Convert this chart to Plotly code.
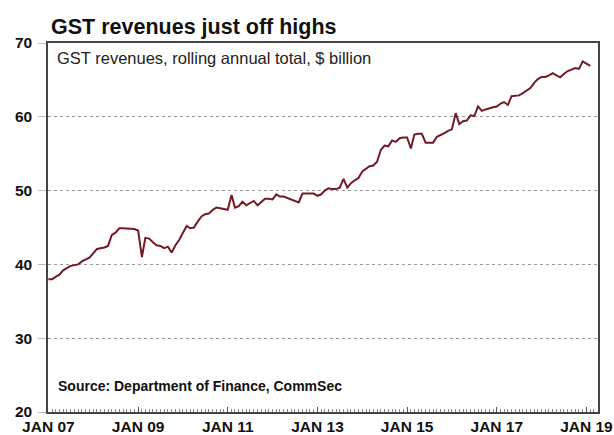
"""GST revenues, rolling annual total (recreated chart)."""

import pandas as pd
import plotly.graph_objects as go

# Monthly rolling annual total, $ billion, Jan 2007 onward
start_month = "2007-01-01"
gst_revenue = [
    38.0, 38.0, 38.3, 38.6, 39.2, 39.5, 39.8, 39.9, 40.0, 40.4, 40.7, 40.9,
    41.5, 42.1, 42.2, 42.3, 42.5, 44.0, 44.3, 44.9, 44.9, 44.9, 44.8, 44.8,
    44.6, 41.0, 43.6, 43.5, 43.0, 42.6, 42.5, 42.2, 42.4, 41.6, 42.6, 43.3,
    44.3, 45.2, 44.9, 45.0, 45.8, 46.5, 46.8, 46.9, 47.4, 47.7, 47.6, 47.5,
    47.4, 49.4, 47.7, 47.9, 48.5, 48.0, 48.3, 48.6, 48.0, 48.5, 48.9, 48.9,
    48.8, 49.5, 49.2, 49.2, 49.0, 48.8, 48.6, 48.4, 49.6, 49.6, 49.6, 49.6,
    49.3, 49.5, 50.0, 50.3, 50.2, 50.2, 50.4, 51.6, 50.4, 51.0, 51.4, 51.7,
    52.6, 53.0, 53.3, 53.4, 53.9, 55.5, 56.1, 56.0, 56.8, 56.6, 57.1, 57.2,
    57.2, 55.7, 57.6, 57.7, 57.7, 56.5, 56.5, 56.5, 57.3, 57.5, 57.8, 58.1,
    58.3, 60.5, 59.0, 59.4, 59.5, 60.2, 60.1, 61.4, 60.8, 61.0, 61.2, 61.3,
    61.4, 61.8, 62.0, 61.6, 62.8, 62.9, 62.9, 63.2, 63.5, 63.9, 64.6, 65.1,
    65.4, 65.4, 65.6, 65.9, 65.6, 65.35, 65.8, 66.2, 66.4, 66.6, 66.5, 67.5,
    67.2, 66.9,
]
months = pd.date_range(start_month, periods=len(gst_revenue), freq="MS")

x_tick_dates = ["2007-01-01", "2009-01-01", "2011-01-01", "2013-01-01",
                "2015-01-01", "2017-01-01", "2019-01-01"]
x_tick_labels = ["JAN 07", "JAN 09", "JAN 11", "JAN 13", "JAN 15", "JAN 17", "JAN 19"]
y_ticks = [20, 30, 40, 50, 60, 70]

FONT = "Liberation Sans, Arial, sans-serif"

fig = go.Figure()
fig.add_trace(go.Scatter(
    x=months, y=gst_revenue, mode="lines",
    line=dict(color="#731a26", width=2),
    showlegend=False,
))

fig.update_layout(
    width=614, height=435,
    paper_bgcolor="white", plot_bgcolor="white",
    margin=dict(l=48, r=16, t=43, b=23),
    font=dict(family=FONT, color="#111111"),
    title=dict(
        text="<b>GST revenues just off highs</b>",
        x=51 / 614, xanchor="left", y=1 - 26.5 / 435, yanchor="middle",
        font=dict(size=21.5, family=FONT, color="#111111"),
    ),
)

fig.update_xaxes(
    range=["2006-12-29", "2019-04-05"],
    tickvals=x_tick_dates, ticktext=x_tick_labels,
    tickfont=dict(size=15.5, family=FONT, color="#111111", weight="bold"),
    ticks="inside", ticklen=5, tickcolor="#555555", ticklabelstandoff=0,
    minor=dict(dtick="M1", ticks="inside", ticklen=3, tickcolor="#888888"),
    showgrid=False, showline=True, linecolor="#444444", linewidth=1.5,
    mirror=True, automargin=False,
)
fig.update_yaxes(
    range=[20, 70], tickvals=y_ticks,
    tickfont=dict(size=15.5, family=FONT, color="#111111", weight="bold"),
    ticks="outside", ticklen=8, tickcolor="#bbbbbb", ticklabelstandoff=3,
    showgrid=True, gridcolor="#999999", griddash="dot", gridwidth=1,
    showline=True, linecolor="#444444", linewidth=1.5, mirror=True,
    zeroline=False, automargin=False,
)

fig.add_annotation(
    text="GST revenues, rolling annual total, $ billion",
    xref="paper", yref="paper", x=7 / 550, y=1 - 14.5 / 369,
    xanchor="left", yanchor="middle", showarrow=False,
    font=dict(size=16.5, family=FONT, color="#222222"),
)
fig.add_annotation(
    text="<b>Source: Department of Finance, CommSec</b>",
    xref="paper", yref="paper", x=8 / 550, y=(412 - 386) / 369,
    xanchor="left", yanchor="middle", showarrow=False,
    font=dict(size=14, family=FONT, color="#111111"),
)

# the page's default 8px body margin would push the figure off the window
fig.write_html(
    "out.html",
    config={"displayModeBar": False},
    post_script="document.body.style.margin = '0';",
)
